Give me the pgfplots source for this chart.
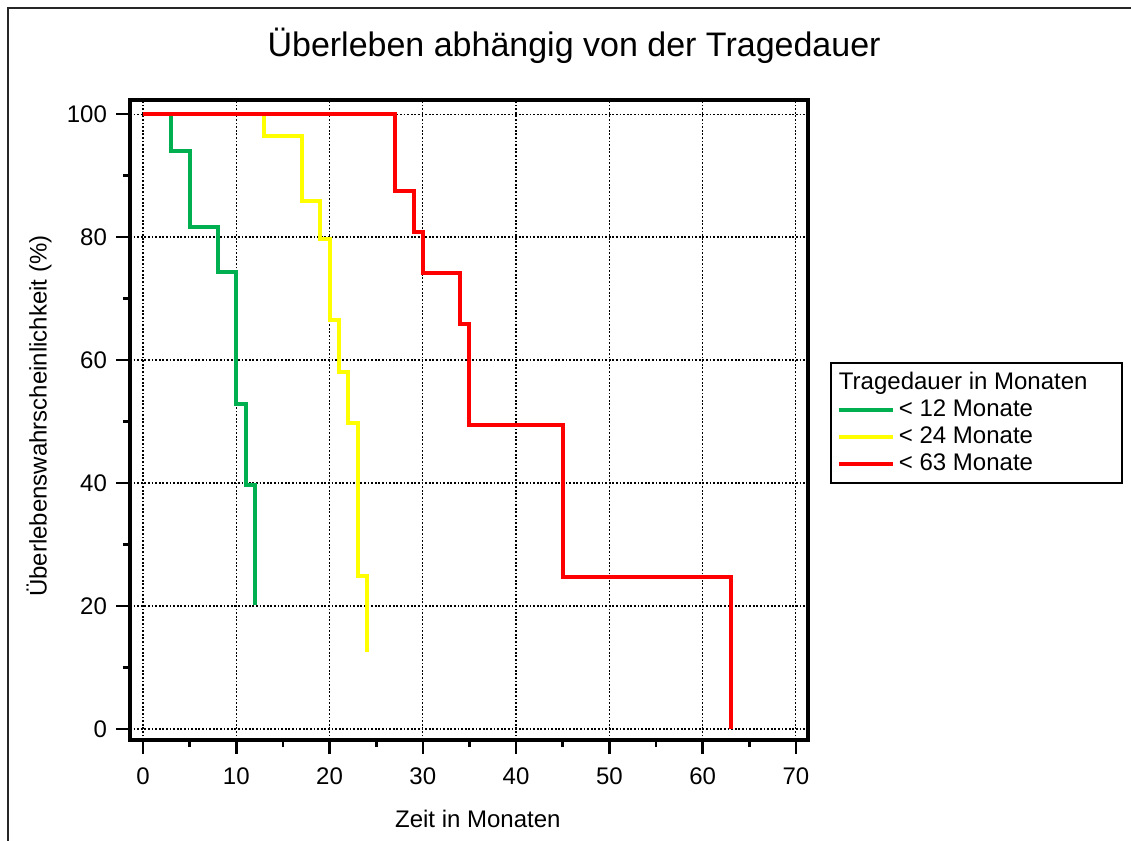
\documentclass[border=0pt]{standalone}
\usepackage{pgfplots}
\pgfplotsset{compat=1.18}
\usepackage{fontspec}
\setmainfont{Liberation Sans}
\definecolor{kmgreen}{RGB}{0,176,80}
\definecolor{kmyellow}{RGB}{255,255,0}
\definecolor{kmred}{RGB}{255,0,0}
\begin{document}
\begin{tikzpicture}
\useasboundingbox (0,0) rectangle (565.5pt,420.5pt);
\draw[line width=1.2pt,black!85] (4pt,0pt) -- (4pt,416.5pt) -- (565.5pt,416.5pt);
\begin{axis}[
  at={(65pt,50.5pt)}, anchor=south west,
  scale only axis,
  width=339pt, height=320pt,
  xmin=-1.4, xmax=71.3,
  ymin=-1.8, ymax=102.3,
  axis line style={line width=2pt},
  xtick={0,10,...,70}, ytick={0,20,...,100},
  minor x tick num=1, minor y tick num=1,
  xtick pos=left, ytick pos=left,
  tick align=outside,
  major tick length=7pt, minor tick length=3.5pt,
  every tick/.style={black, line width=1.3pt},
  grid=major,
  major grid style={black, line width=0.6pt, dash pattern=on 0.9pt off 0.9pt},
  /pgf/number format/assume math mode=true,
  tick label style={font=\fontsize{12}{14.4}\selectfont},
  yticklabel style={xshift=-1pt},
  xticklabel style={yshift=-3.5pt},
  title={Überleben abhängig von der Tragedauer},
  title style={at={(axis description cs:0.655,1.049)}, anchor=base, font=\fontsize{17}{20}\selectfont},
  xlabel={Zeit in Monaten},
  xlabel style={at={(axis description cs:0.513,-0.136)}, anchor=base, font=\fontsize{12}{14.4}\selectfont},
  ylabel={Überlebenswahrscheinlichkeit (\%)},
  ylabel style={at={(axis description cs:-0.134,0.506)}, anchor=center, font=\fontsize{12}{14.4}\selectfont},
  legend style={at={(rel axis cs:1.0324,0.5906)}, anchor=north west,
    draw=black, line width=1pt, font=\fontsize{12}{14.4}\selectfont,
    cells={anchor=west}, row sep=-0.4pt, inner xsep=3pt, inner ysep=2.8pt},
  legend image code/.code={\draw[#1] (0pt,0pt) -- (21.5pt,0pt); \path (0pt,0pt) -- (27pt,0pt);},
]
\addlegendimage{empty legend}
\addlegendentry{\hspace{-30pt}Tragedauer in Monaten\rule{12pt}{0pt}}
\addplot[const plot, kmgreen, line width=2pt] coordinates {
 (0,100) (3,94.0) (5,81.6) (8,74.3) (10,52.8) (11,39.7) (12,20.1)
};
\addlegendentry{< 12 Monate}
\addplot[const plot, kmyellow, line width=2pt] coordinates {
 (0,100) (13,96.5) (17,85.9) (19,79.7) (20,66.5) (21,58.1) (22,49.7) (23,24.8) (24,12.5)
};
\addlegendentry{< 24 Monate}
\addplot[const plot, kmred, line width=2pt] coordinates {
 (0,100) (27,87.5) (29,80.9) (30,74.1) (34,65.9) (35,49.4) (45,24.7) (63,0)
};
\addlegendentry{< 63 Monate}
\end{axis}
\end{tikzpicture}
\end{document}
